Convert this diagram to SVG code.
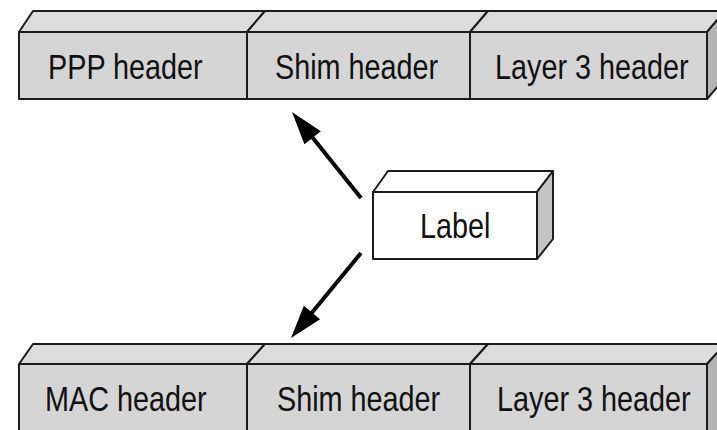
<svg xmlns="http://www.w3.org/2000/svg" width="717" height="430" viewBox="0 0 717 430">
  <defs>
    <style>
      .front { fill: #d5d5d5; stroke: #1c1c1c; stroke-width: 2; stroke-linejoin: round; }
      .top { fill: #dcdcdc; stroke: #1c1c1c; stroke-width: 2; stroke-linejoin: round; }
      .side { fill: #b4b4b4; stroke: #1c1c1c; stroke-width: 2; stroke-linejoin: round; }
      .lbl-front, .lbl-top { fill: #ffffff; stroke: #1c1c1c; stroke-width: 2; stroke-linejoin: round; }
      .lbl-side { fill: #c4c4c4; stroke: #1c1c1c; stroke-width: 2; stroke-linejoin: round; }
      .txt { font-family: "Liberation Sans", Arial, Helvetica, sans-serif; font-size: 36px; fill: #111111; }
      .arrow { stroke: #000000; stroke-width: 4; fill: none; marker-end: url(#head); }
    </style>
    <marker id="head" markerUnits="userSpaceOnUse" markerWidth="34" markerHeight="22" refX="5" refY="10.5" orient="auto" overflow="visible">
      <path d="M0,0 L33,10.5 L0,21 Z" fill="#000000"/>
    </marker>
  </defs>

  <rect width="717" height="430" fill="#ffffff"/>

  <!-- upper frame: PPP / shim / layer 3 -->
  <g id="ppp-header">
    <polygon class="top" points="19,32 33,11 265,11 247,32"/>
    <rect class="front" x="19" y="32" width="228" height="67"/>
    <text class="txt" transform="translate(48,79) scale(0.8,1)">PPP header</text>
  </g>
  <g id="shim-header-top">
    <polygon class="top" points="247,32 265,11 488,11 470,32"/>
    <rect class="front" x="247" y="32" width="223" height="67"/>
    <text class="txt" transform="translate(275,79) scale(0.8,1)">Shim header</text>
  </g>
  <g id="layer3-header-top">
    <polygon class="top" points="470,32 488,11 725,11 707,32"/>
    <polygon class="side" points="707,32 725,11 725,78 707,99"/>
    <rect class="front" x="470" y="32" width="237" height="67"/>
    <text class="txt" transform="translate(495,79) scale(0.8,1)">Layer 3 header</text>
  </g>

  <!-- label block -->
  <g id="label">
    <polygon class="lbl-top" points="373,192 388,171 553,171 537,192"/>
    <polygon class="lbl-side" points="537,192 553,171 553,239 537,259"/>
    <rect class="lbl-front" x="373" y="192" width="164" height="67"/>
    <text class="txt" transform="translate(420,238) scale(0.8,1)">Label</text>
  </g>

  <!-- lower frame: MAC / shim / layer 3 -->
  <g id="mac-header">
    <polygon class="top" points="19,364 33,344 265,344 247,364"/>
    <rect class="front" x="19" y="364" width="228" height="80"/>
    <text class="txt" transform="translate(45,411) scale(0.8,1)">MAC header</text>
  </g>
  <g id="shim-header-bottom">
    <polygon class="top" points="247,364 265,344 488,344 470,364"/>
    <rect class="front" x="247" y="364" width="223" height="80"/>
    <text class="txt" transform="translate(277,411) scale(0.8,1)">Shim header</text>
  </g>
  <g id="layer3-header-bottom">
    <polygon class="top" points="470,364 488,344 725,344 707,364"/>
    <polygon class="side" points="707,364 725,344 725,440 707,440"/>
    <rect class="front" x="470" y="364" width="237" height="80"/>
    <text class="txt" transform="translate(497,411) scale(0.8,1)">Layer 3 header</text>
  </g>

  <!-- connectors -->
  <g id="connectors">
    <line class="arrow" x1="361" y1="198" x2="309.5" y2="133.8"/>
    <line class="arrow" x1="361" y1="253" x2="308.8" y2="316.4"/>
  </g>
</svg>
